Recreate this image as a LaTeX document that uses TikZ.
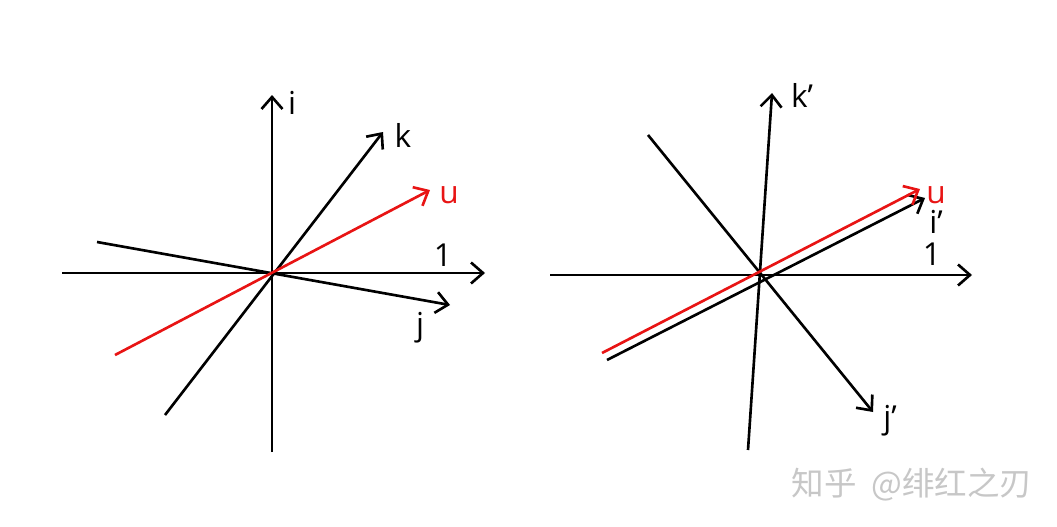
\documentclass[tikz,border=0pt]{standalone}
\usepackage{fontspec}
\setmainfont{Open Sans}
\newfontfamily\cjkfont{Noto Sans CJK SC}
\usetikzlibrary{arrows.meta}

\definecolor{ured}{RGB}{232,20,20}
\tikzset{
  axis/.style={line width=1.5pt, -{Straight Barb[length=2.4mm,width=4.2mm,line width=1.5pt]}},
  vecu/.style={axis, ured},
  lbl/.style={font=\fontsize{18}{21}\selectfont, inner sep=0pt}
}

\begin{document}
\begin{tikzpicture}[x=0.2mm, y=-0.2mm, >=latex]
  \useasboundingbox (0,0) rectangle (1057,526);

  % ---- left frame ----
  \coordinate (O1) at (272,273);
  \coordinate (xa) at (62,273);   \coordinate (xb) at (485,273);
  \coordinate (ia) at (272,452);  \coordinate (ib) at (272,95);
  \coordinate (ka) at (165,415);  \coordinate (kb) at (383,132);
  \coordinate (ja) at (97,242);   \coordinate (jb) at (450,305);
  \coordinate (ua) at (115,355);  \coordinate (ub) at (430,190);

  % Draw the axes and the basis vectors
  \draw[axis] (xa) -- (xb);
  \draw[axis] (ia) -- (ib);
  \draw[axis] (ka) -- (kb);
  \draw[axis] (ja) -- (jb);
  \draw[vecu] (ua) -- (ub);

  % Labels
  \node[lbl] (one1) at (443,255) {1};
  \node[lbl] (i1) at (292,103) {i};
  \node[lbl] (k1) at (403,135) {k};
  \node[lbl] (j1) at (420,328) {j};
  \node[lbl, text=ured] (u1) at (449,195) {u};

  % ---- right frame ----
  \coordinate (O2) at (762,275);
  \coordinate (xc) at (550,275);  \coordinate (xd) at (972,275);
  \coordinate (kc) at (748,450);  \coordinate (kd) at (772,93);
  \coordinate (jc) at (648,135);  \coordinate (jd) at (873,412);
  \coordinate (ic) at (607,360);  \coordinate (id) at (925,198);
  \coordinate (uc) at (602,353);  \coordinate (ud) at (920,189);

  % Draw the axes and the rotated basis vectors
  \draw[axis] (xc) -- (xd);
  \draw[axis] (kc) -- (kd);
  \draw[axis] (jc) -- (jd);
  \draw[axis] (ic) -- (id);
  \draw[vecu] (uc) -- (ud);

  % Labels
  \node[lbl] (one2) at (932,254) {1};
  \node[lbl] (k2) at (802,95) {k’};
  \node[lbl] (i2) at (936,222) {i’};
  \node[lbl] (j2) at (890,421) {j’};
  \node[lbl, text=ured] (u2) at (936,195) {u};

  % Watermark
  \node[font=\cjkfont\fontsize{18.5}{22}\selectfont, text=black!22] (mark) at (912,485) {知乎\ \ @绯红之刃};
\end{tikzpicture}
\end{document}
